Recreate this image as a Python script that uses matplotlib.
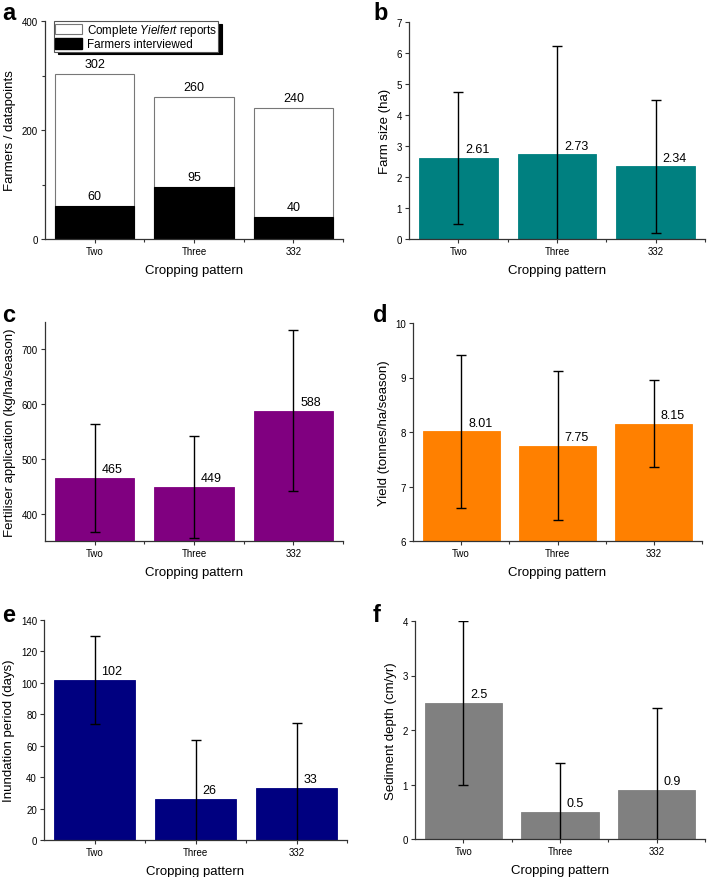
import numpy as np
import matplotlib
matplotlib.use('Agg')
import matplotlib.pyplot as plt
from matplotlib.patches import Patch

plt.rcParams['font.family'] = ['Liberation Sans', 'DejaVu Sans']
plt.rcParams['mathtext.fontset'] = 'custom'
plt.rcParams['mathtext.it'] = 'Liberation Sans:italic'
plt.rcParams['mathtext.rm'] = 'Liberation Sans'

patterns = ['Two', 'Three', '332']

# a
complete_reports = [302, 260, 240]
farmers_interviewed = [60, 95, 40]

# b - f: mean and +/- error
farm_size = [2.61, 2.73, 2.34]
farm_size_err = [2.14, 3.5, 2.14]

fertiliser = [465, 449, 588]
fertiliser_err = [98.5, 93, 146.5]

yield_ = [8.01, 7.75, 8.15]
yield_err = [1.41, 1.37, 0.8]

inundation = [102, 26, 33]
inundation_err = [28, 37.4, 41.4]

sediment = [2.5, 0.5, 0.9]
sediment_err = [1.5, 0.9, 1.5]

W, H = 720, 878
fig = plt.figure(figsize=(7.2, 8.78), dpi=100)


def make_ax(l, r, t, b):
    return fig.add_axes([l / W, 1 - b / H, (r - l) / W, (b - t) / H])


def style(ax, ylabel, ylim, yticks, yminor=None):
    x = np.arange(len(patterns))
    ax.set_xlim(-0.5, 2.5)
    ax.set_ylim(*ylim)
    ax.set_xticks(x)
    ax.set_xticklabels(patterns)
    ax.set_xticks([0.5, 1.5, 2.5], minor=True)
    ax.set_yticks(yticks)
    if yminor is not None:
        ax.set_yticks(yminor, minor=True)
    for s in ['top', 'right']:
        ax.spines[s].set_visible(False)
    for s in ['left', 'bottom']:
        ax.spines[s].set_color('#333333')
        ax.spines[s].set_linewidth(0.9)
    ax.tick_params(which='major', direction='out', length=3, width=0.8,
                   labelsize=7, color='#333333', pad=2)
    ax.tick_params(which='minor', direction='out', length=2, width=0.8,
                   color='#333333')
    ax.set_xlabel('Cropping pattern', fontsize=9.5, labelpad=6)
    ax.set_ylabel(ylabel, fontsize=9.5, labelpad=4)


def err_panel(ax, vals, errs, color):
    x = np.arange(len(patterns))
    ax.bar(x, vals, width=0.8, color=color, edgecolor=color, linewidth=0.6,
           zorder=2)
    ax.errorbar(x, vals, yerr=errs, fmt='none', ecolor='black', elinewidth=1,
                capsize=3.5, capthick=1, zorder=3)
    for xi, v in zip(x, vals):
        ax.annotate(str(v), (xi, v), xytext=(5, 2), textcoords='offset points',
                    ha='left', va='bottom', fontsize=9, zorder=4)


# a
ax = make_ax(45, 343, 22, 240)
x = np.arange(len(patterns))
ax.bar(x, complete_reports, width=0.8, color='white', edgecolor='#777777',
       linewidth=0.8, zorder=2)
ax.bar(x, farmers_interviewed, width=0.8, color='black', edgecolor='black',
       linewidth=0.8, zorder=2)
for xi, v in zip(x, complete_reports):
    ax.annotate(str(v), (xi, v), xytext=(0, 3), textcoords='offset points',
                ha='center', va='bottom', fontsize=9)
for xi, v in zip(x, farmers_interviewed):
    ax.annotate(str(v), (xi, v), xytext=(0, 3), textcoords='offset points',
                ha='center', va='bottom', fontsize=9)
style(ax, 'Farmers / datapoints', (0, 400), [0, 200, 400], [100, 300])
handles = [Patch(facecolor='white', edgecolor='#777777', linewidth=0.8),
           Patch(facecolor='black', edgecolor='black')]
leg = ax.legend(handles, ['Complete $\\mathit{Yielfert}$ reports', 'Farmers interviewed'],
                loc='upper left', bbox_to_anchor=(0.03, 1.0), borderaxespad=0,
                fontsize=8.4, frameon=True, fancybox=False,
                shadow={'color': 'black', 'alpha': 1, 'ox': 3, 'oy': -2},
                handlelength=2.3, handleheight=1.0, handletextpad=0.4,
                borderpad=0.1, labelspacing=0.0)
leg.get_frame().set_edgecolor('#555555')
leg.get_frame().set_linewidth(0.8)

# b
ax = make_ax(409, 705, 23, 240)
err_panel(ax, farm_size, farm_size_err, '#008080')
style(ax, 'Farm size (ha)', (0, 7), range(0, 8))

# c
ax = make_ax(45, 343, 323, 542)
err_panel(ax, fertiliser, fertiliser_err, '#800080')
style(ax, 'Fertiliser application (kg/ha/season)', (350, 750), [400, 500, 600, 700])

# d
ax = make_ax(413, 702, 324, 542)
err_panel(ax, yield_, yield_err, '#FF8000')
style(ax, 'Yield (tonnes/ha/season)', (6, 10), range(6, 11))

# e
ax = make_ax(44, 347, 621, 841)
err_panel(ax, inundation, inundation_err, '#000080')
style(ax, 'Inundation period (days)', (0, 140), range(0, 141, 20))

# f
ax = make_ax(415, 705, 622, 840)
err_panel(ax, sediment, sediment_err, '#808080')
style(ax, 'Sediment depth (cm/yr)', (0, 4), range(0, 5))

for letter, px, py in [('a', 2, 2), ('b', 373, 2), ('c', 2, 304),
                       ('d', 373, 304), ('e', 2, 604), ('f', 373, 604)]:
    fig.text(px / W, 1 - py / H, letter, fontsize=17, fontweight='bold',
             ha='left', va='top')

fig.savefig('out.png', dpi=100)
